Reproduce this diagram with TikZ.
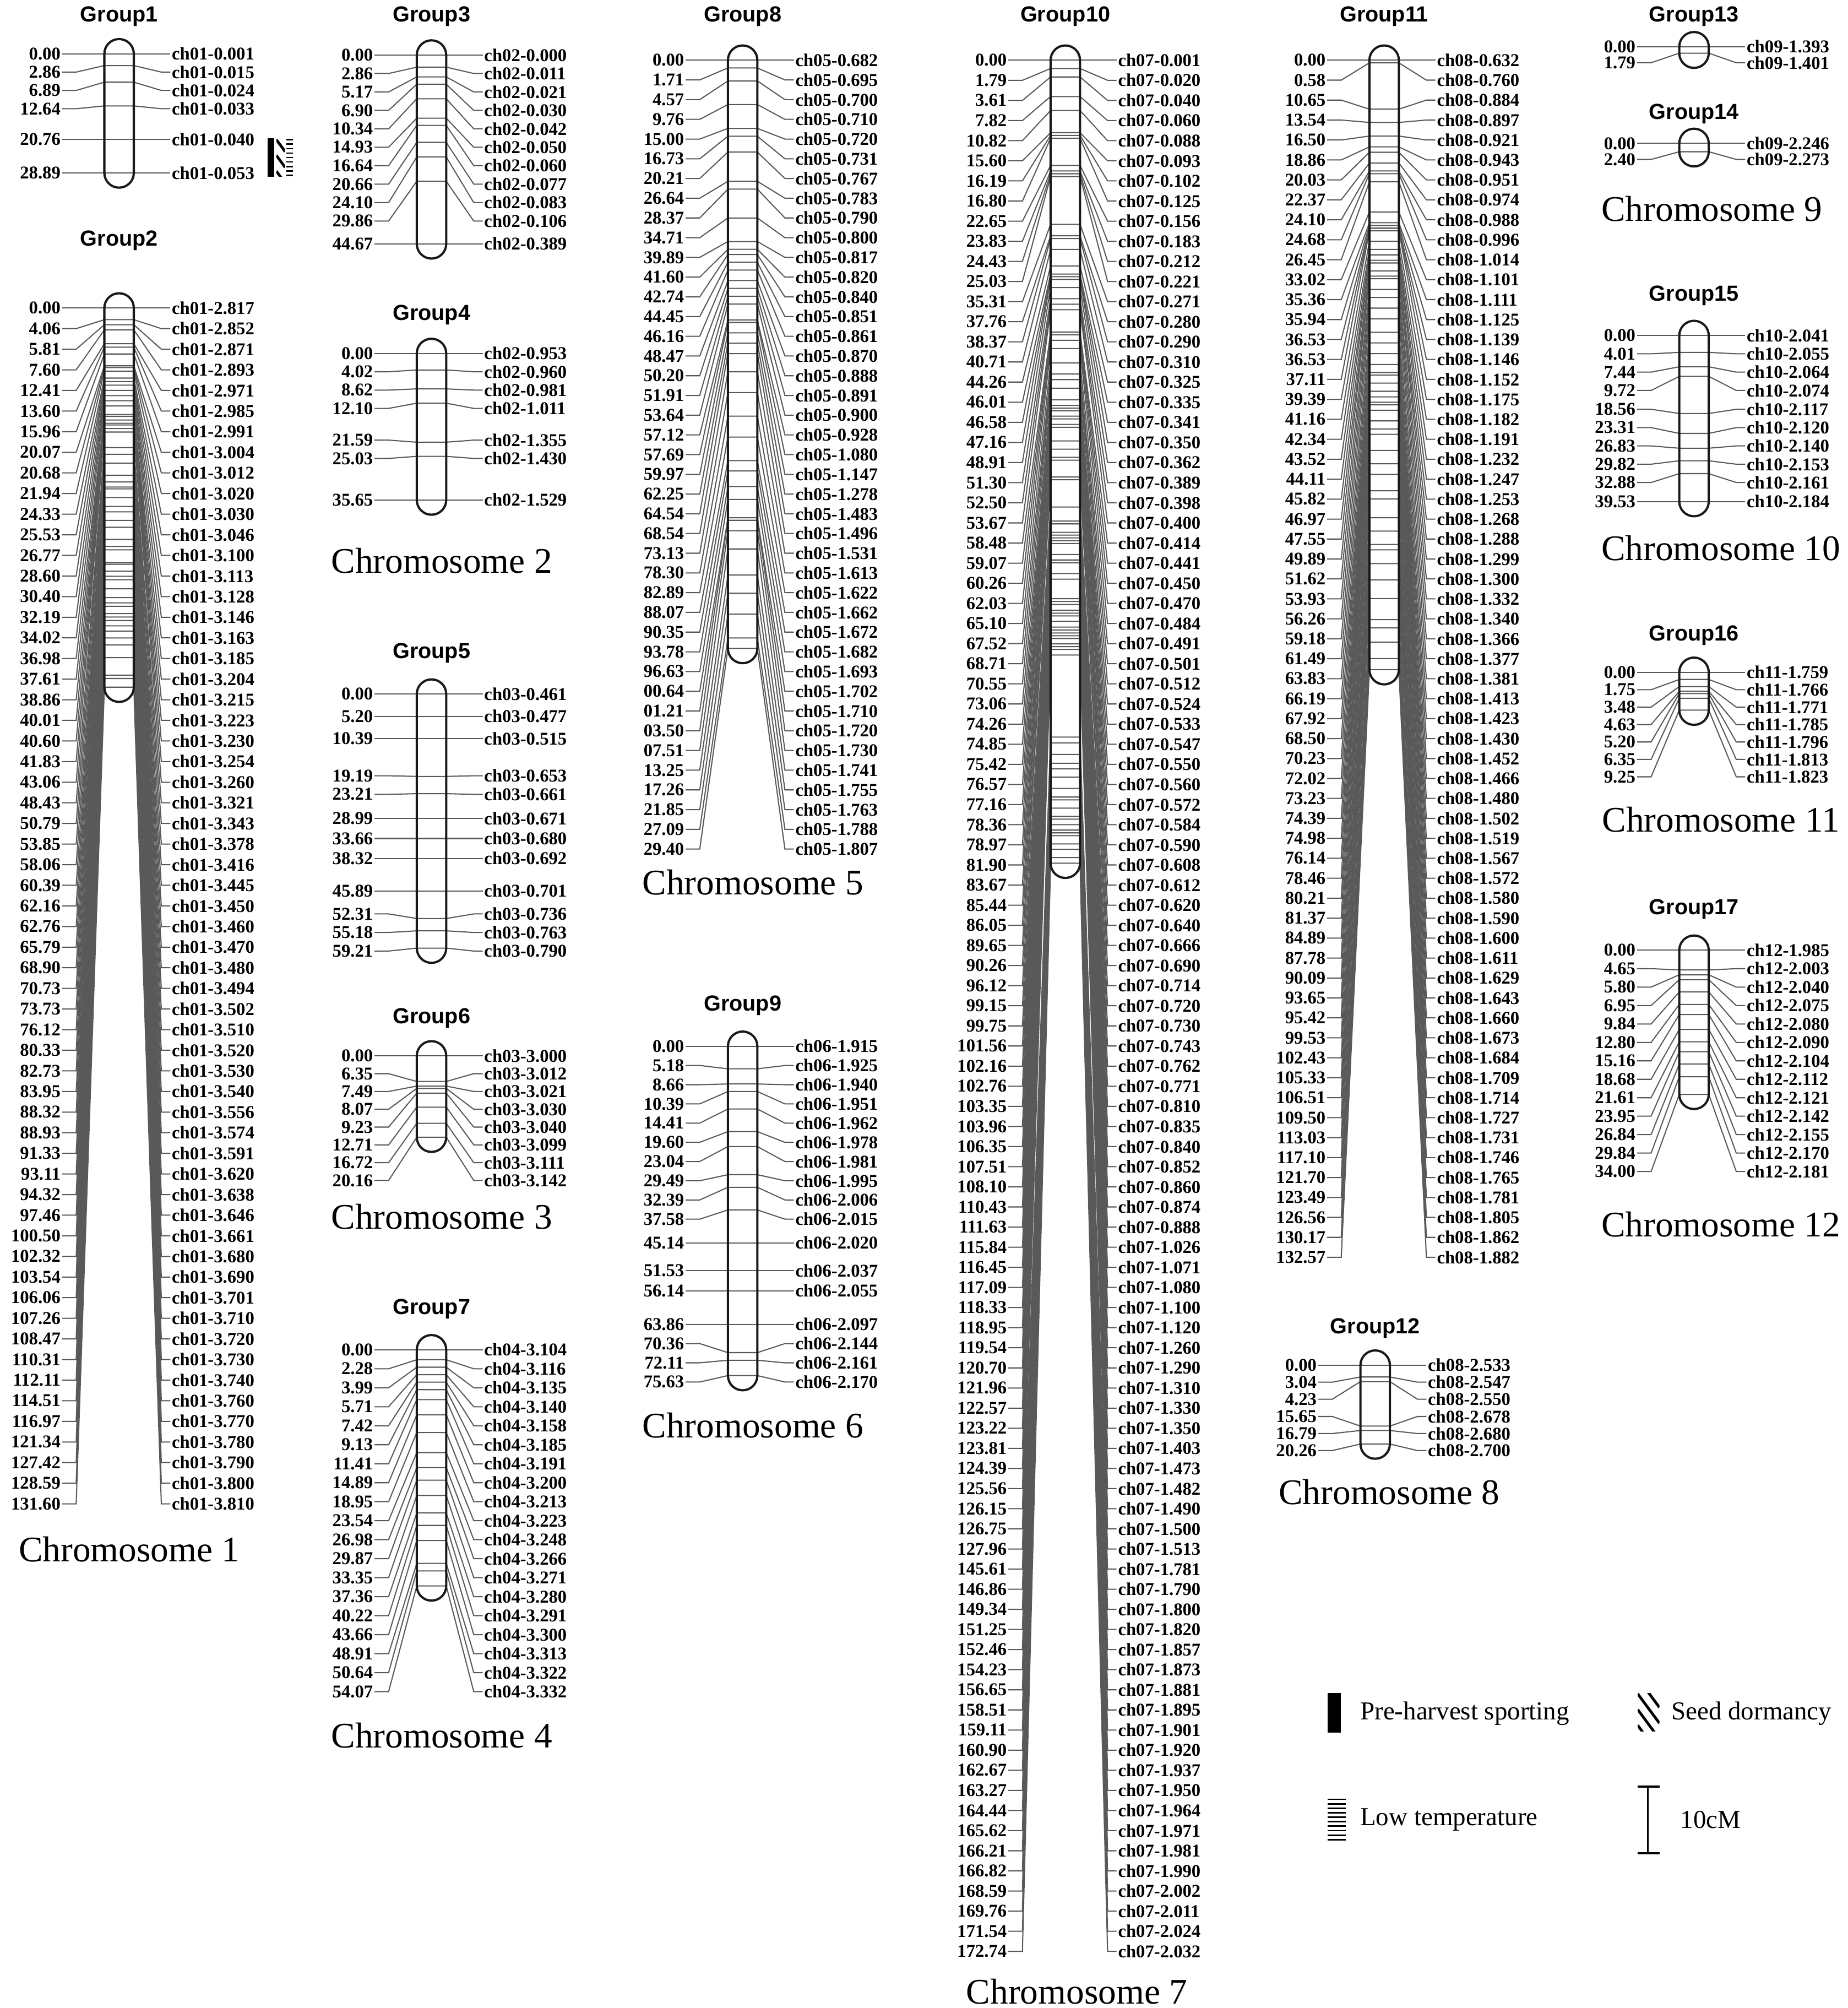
\documentclass[tikz,border=0pt]{standalone}
\usepackage{fontspec}
\setmainfont{Liberation Serif}
\newfontfamily\grpfont{Liberation Sans}
\usetikzlibrary{positioning}

\tikzset{
  conn/.style={draw=black!65, line width=0.5pt},
  chrbar/.style={draw=black!90, line width=1pt, rounded corners=0.23cm},
  cmlab/.style={font=\bfseries\fontsize{8}{8}\selectfont, inner sep=0.5pt, anchor=east},
  mklab/.style={font=\bfseries\fontsize{8}{8}\selectfont, inner sep=0.5pt, anchor=west},
  grptitle/.style={font=\grpfont\bfseries\fontsize{9.7}{10}\selectfont},
  chrname/.style={font=\fontsize{16}{18}\selectfont},
  legtext/.style={font=\fontsize{11.5}{13}\selectfont, inner sep=0pt},
}

\newcount\gnc
\newif\ifgmerge

% does the last label cluster run into the one before it?
\newcommand{\gmergetest}{%
  \gmergefalse
  \ifnum\gnc>1
    \pgfmathtruncatemacro\gpv{\the\gnc-1}%
    \pgfmathsetmacro\gov{\csname cp\gpv\endcsname+\csname cn\gpv\endcsname*\ggap-\csname cp\the\gnc\endcsname}%
    \ifdim\gov pt>0.01pt \gmergetrue\fi
  \fi}

\newcommand{\gmerge}{%
  \pgfmathtruncatemacro\gpv{\the\gnc-1}%
  \edef\gna{\csname cn\gpv\endcsname}\edef\gnb{\csname cn\the\gnc\endcsname}%
  \pgfmathtruncatemacro\gcnt{\gna+\gnb}%
  \pgfmathsetmacro\gmean{\csname cm\gpv\endcsname+(\csname cm\the\gnc\endcsname-\csname cm\gpv\endcsname)*\gnb/\gcnt}%
  \pgfmathsetmacro\gtmp{\gmean-(\gcnt-1)/2*\ggap}%
  \ifnum\gpv=1 \pgfmathsetmacro\gtmp{max(\gtmp,\csname gt1\endcsname)}\fi
  \expandafter\xdef\csname cn\gpv\endcsname{\gcnt}%
  \expandafter\xdef\csname cm\gpv\endcsname{\gmean}%
  \expandafter\xdef\csname cp\gpv\endcsname{\gtmp}%
  \global\advance\gnc by -1 }

% [first entry printed without its hundreds]{id}{centre x}{y of 0 cM}{px per cM}{label gap}{cM/marker list}
\newcommand{\linkgroup}[7][1000]{%
  \def\gcx{#3}\def\gyo{#4}\def\gsc{#5}\def\ggap{#6}%
  \foreach \cmv/\mkn [count=\i] in {#7}{%
    \ifnum\i<#1\relax \pgfmathsetmacro\gtmp{\gyo+\gsc*\cmv}%
    \else \pgfmathsetmacro\gtmp{\gyo+\gsc*1\cmv}\fi
    \expandafter\xdef\csname gt\i\endcsname{\gtmp}%
    \expandafter\xdef\csname gl\i\endcsname{\cmv}%
    \expandafter\xdef\csname gm\i\endcsname{\mkn}%
    \xdef\gn{\i}}%
  \global\gnc=0
  \foreach \i in {1,...,\gn}{%
    \global\advance\gnc by 1
    \expandafter\xdef\csname cn\the\gnc\endcsname{1}%
    \expandafter\xdef\csname cst\the\gnc\endcsname{\i}%
    \expandafter\xdef\csname cm\the\gnc\endcsname{\csname gt\i\endcsname}%
    \expandafter\xdef\csname cp\the\gnc\endcsname{\csname gt\i\endcsname}%
    \gmergetest
    \loop\ifgmerge \gmerge\gmergetest\repeat}%
  \xdef\gncl{\the\gnc}%
  \foreach \gkk in {1,...,\gncl}{%
    \pgfmathtruncatemacro\glast{\csname cn\gkk\endcsname-1}%
    \foreach \gjj in {0,...,\glast}{%
      \pgfmathtruncatemacro\gidx{\csname cst\gkk\endcsname+\gjj}%
      \pgfmathsetmacro\gtmp{\csname cp\gkk\endcsname+\gjj*\ggap}%
      \expandafter\xdef\csname gy\gidx\endcsname{\gtmp}}}%
  \foreach \i in {1,...,\gn}{%
    \edef\gyy{\csname gy\i\endcsname}\edef\gtt{\csname gt\i\endcsname}%
    \node[cmlab] (#2l\i) at (\gcx-44.5,\gyy) {\csname gl\i\endcsname};
    \node[mklab] (#2r\i) at (\gcx+40,\gyy) {\csname gm\i\endcsname};
    \draw[conn] (#2l\i.east) -- ++(11,0) -- (\gcx-11.5,\gtt) -- (\gcx+11.5,\gtt)
      -- (\gcx+33,\gyy) -- (#2r\i.west);}%
  \draw[chrbar] (\gcx-11.5,\gyo-11.5) rectangle (\gcx+11.5,\csname gt\gn\endcsname+11.5);}

\begin{document}
\begin{tikzpicture}[x=0.02cm, y=-0.02cm]
\useasboundingbox (0,0) rectangle (1443,1568);

\node[grptitle] (tg1) at (93,13) {Group1};
\node[grptitle] (tg2) at (93,188) {Group2};
\node[grptitle] (tg3) at (337,13) {Group3};
\node[grptitle] (tg4) at (337,246) {Group4};
\node[grptitle] (tg5) at (337,510) {Group5};
\node[grptitle] (tg6) at (337,795) {Group6};
\node[grptitle] (tg7) at (337,1022) {Group7};
\node[grptitle] (tg8) at (580,13) {Group8};
\node[grptitle] (tg9) at (580,785) {Group9};
\node[grptitle] (tg10) at (832,13) {Group10};
\node[grptitle] (tg11) at (1081,13) {Group11};
\node[grptitle] (tg12) at (1074,1037) {Group12};
\node[grptitle] (tg13) at (1323,13) {Group13};
\node[grptitle] (tg14) at (1323,89) {Group14};
\node[grptitle] (tg15) at (1323,231) {Group15};
\node[grptitle] (tg16) at (1323,496) {Group16};
\node[grptitle] (tg17) at (1323,710) {Group17};

\linkgroup{g1}{93}{42}{3.22}{14.3}{0.00/ch01-0.001, 2.86/ch01-0.015, 6.89/ch01-0.024,
  12.64/ch01-0.033, 20.76/ch01-0.040, 28.89/ch01-0.053}

\linkgroup{g2}{93}{240.5}{2.25}{16.1}{0.00/ch01-2.817, 4.06/ch01-2.852, 5.81/ch01-2.871,
  7.60/ch01-2.893, 12.41/ch01-2.971, 13.60/ch01-2.985, 15.96/ch01-2.991, 20.07/ch01-3.004,
  20.68/ch01-3.012, 21.94/ch01-3.020, 24.33/ch01-3.030, 25.53/ch01-3.046, 26.77/ch01-3.100,
  28.60/ch01-3.113, 30.40/ch01-3.128, 32.19/ch01-3.146, 34.02/ch01-3.163, 36.98/ch01-3.185,
  37.61/ch01-3.204, 38.86/ch01-3.215, 40.01/ch01-3.223, 40.60/ch01-3.230, 41.83/ch01-3.254,
  43.06/ch01-3.260, 48.43/ch01-3.321, 50.79/ch01-3.343, 53.85/ch01-3.378, 58.06/ch01-3.416,
  60.39/ch01-3.445, 62.16/ch01-3.450, 62.76/ch01-3.460, 65.79/ch01-3.470, 68.90/ch01-3.480,
  70.73/ch01-3.494, 73.73/ch01-3.502, 76.12/ch01-3.510, 80.33/ch01-3.520, 82.73/ch01-3.530,
  83.95/ch01-3.540, 88.32/ch01-3.556, 88.93/ch01-3.574, 91.33/ch01-3.591, 93.11/ch01-3.620,
  94.32/ch01-3.638, 97.46/ch01-3.646, 100.50/ch01-3.661, 102.32/ch01-3.680, 103.54/ch01-3.690,
  106.06/ch01-3.701, 107.26/ch01-3.710, 108.47/ch01-3.720, 110.31/ch01-3.730, 112.11/ch01-3.740,
  114.51/ch01-3.760, 116.97/ch01-3.770, 121.34/ch01-3.780, 127.42/ch01-3.790, 128.59/ch01-3.800,
  131.60/ch01-3.810}

\linkgroup{g3}{337}{43}{3.30}{14.4}{0.00/ch02-0.000, 2.86/ch02-0.011, 5.17/ch02-0.021,
  6.90/ch02-0.030, 10.34/ch02-0.042, 14.93/ch02-0.050, 16.64/ch02-0.060, 20.66/ch02-0.077,
  24.10/ch02-0.083, 29.86/ch02-0.106, 44.67/ch02-0.389}

\linkgroup{g4}{337}{276}{3.21}{14.3}{0.00/ch02-0.953, 4.02/ch02-0.960, 8.62/ch02-0.981,
  12.10/ch02-1.011, 21.59/ch02-1.355, 25.03/ch02-1.430, 35.65/ch02-1.529}

\linkgroup{g5}{337}{542}{3.35}{14.5}{0.00/ch03-0.461, 5.20/ch03-0.477, 10.39/ch03-0.515,
  19.19/ch03-0.653, 23.21/ch03-0.661, 28.99/ch03-0.671, 33.66/ch03-0.680, 38.32/ch03-0.692,
  45.89/ch03-0.701, 52.31/ch03-0.736, 55.18/ch03-0.763, 59.21/ch03-0.790}

\linkgroup{g6}{337}{824.5}{3.15}{13.9}{0.00/ch03-3.000, 6.35/ch03-3.012, 7.49/ch03-3.021,
  8.07/ch03-3.030, 9.23/ch03-3.040, 12.71/ch03-3.099, 16.72/ch03-3.111, 20.16/ch03-3.142}

\linkgroup{g7}{337}{1054}{3.41}{14.83}{0.00/ch04-3.104, 2.28/ch04-3.116, 3.99/ch04-3.135,
  5.71/ch04-3.140, 7.42/ch04-3.158, 9.13/ch04-3.185, 11.41/ch04-3.191, 14.89/ch04-3.200,
  18.95/ch04-3.213, 23.54/ch04-3.223, 26.98/ch04-3.248, 29.87/ch04-3.266, 33.35/ch04-3.271,
  37.36/ch04-3.280, 40.22/ch04-3.291, 43.66/ch04-3.300, 48.91/ch04-3.313, 50.64/ch04-3.322,
  54.07/ch04-3.332}

\linkgroup[33]{g8}{580}{47}{3.55}{15.4}{0.00/ch05-0.682, 1.71/ch05-0.695, 4.57/ch05-0.700,
  9.76/ch05-0.710, 15.00/ch05-0.720, 16.73/ch05-0.731, 20.21/ch05-0.767, 26.64/ch05-0.783,
  28.37/ch05-0.790, 34.71/ch05-0.800, 39.89/ch05-0.817, 41.60/ch05-0.820, 42.74/ch05-0.840,
  44.45/ch05-0.851, 46.16/ch05-0.861, 48.47/ch05-0.870, 50.20/ch05-0.888, 51.91/ch05-0.891,
  53.64/ch05-0.900, 57.12/ch05-0.928, 57.69/ch05-1.080, 59.97/ch05-1.147, 62.25/ch05-1.278,
  64.54/ch05-1.483, 68.54/ch05-1.496, 73.13/ch05-1.531, 78.30/ch05-1.613, 82.89/ch05-1.622,
  88.07/ch05-1.662, 90.35/ch05-1.672, 93.78/ch05-1.682, 96.63/ch05-1.693, 00.64/ch05-1.702,
  01.21/ch05-1.710, 03.50/ch05-1.720, 07.51/ch05-1.730, 13.25/ch05-1.741, 17.26/ch05-1.755,
  21.85/ch05-1.763, 27.09/ch05-1.788, 29.40/ch05-1.807}

\linkgroup{g9}{580}{817}{3.40}{15}{0.00/ch06-1.915, 5.18/ch06-1.925, 8.66/ch06-1.940,
  10.39/ch06-1.951, 14.41/ch06-1.962, 19.60/ch06-1.978, 23.04/ch06-1.981, 29.49/ch06-1.995,
  32.39/ch06-2.006, 37.58/ch06-2.015, 45.14/ch06-2.020, 51.53/ch06-2.037, 56.14/ch06-2.055,
  63.86/ch06-2.097, 70.36/ch06-2.144, 72.11/ch06-2.161, 75.63/ch06-2.170}

\linkgroup{g10}{832}{47}{3.63}{15.71}{0.00/ch07-0.001, 1.79/ch07-0.020, 3.61/ch07-0.040,
  7.82/ch07-0.060, 10.82/ch07-0.088, 15.60/ch07-0.093, 16.19/ch07-0.102, 16.80/ch07-0.125,
  22.65/ch07-0.156, 23.83/ch07-0.183, 24.43/ch07-0.212, 25.03/ch07-0.221, 35.31/ch07-0.271,
  37.76/ch07-0.280, 38.37/ch07-0.290, 40.71/ch07-0.310, 44.26/ch07-0.325, 46.01/ch07-0.335,
  46.58/ch07-0.341, 47.16/ch07-0.350, 48.91/ch07-0.362, 51.30/ch07-0.389, 52.50/ch07-0.398,
  53.67/ch07-0.400, 58.48/ch07-0.414, 59.07/ch07-0.441, 60.26/ch07-0.450, 62.03/ch07-0.470,
  65.10/ch07-0.484, 67.52/ch07-0.491, 68.71/ch07-0.501, 70.55/ch07-0.512, 73.06/ch07-0.524,
  74.26/ch07-0.533, 74.85/ch07-0.547, 75.42/ch07-0.550, 76.57/ch07-0.560, 77.16/ch07-0.572,
  78.36/ch07-0.584, 78.97/ch07-0.590, 81.90/ch07-0.608, 83.67/ch07-0.612, 85.44/ch07-0.620,
  86.05/ch07-0.640, 89.65/ch07-0.666, 90.26/ch07-0.690, 96.12/ch07-0.714, 99.15/ch07-0.720,
  99.75/ch07-0.730, 101.56/ch07-0.743, 102.16/ch07-0.762, 102.76/ch07-0.771, 103.35/ch07-0.810,
  103.96/ch07-0.835, 106.35/ch07-0.840, 107.51/ch07-0.852, 108.10/ch07-0.860, 110.43/ch07-0.874,
  111.63/ch07-0.888, 115.84/ch07-1.026, 116.45/ch07-1.071, 117.09/ch07-1.080, 118.33/ch07-1.100,
  118.95/ch07-1.120, 119.54/ch07-1.260, 120.70/ch07-1.290, 121.96/ch07-1.310, 122.57/ch07-1.330,
  123.22/ch07-1.350, 123.81/ch07-1.403, 124.39/ch07-1.473, 125.56/ch07-1.482, 126.15/ch07-1.490,
  126.75/ch07-1.500, 127.96/ch07-1.513, 145.61/ch07-1.781, 146.86/ch07-1.790, 149.34/ch07-1.800,
  151.25/ch07-1.820, 152.46/ch07-1.857, 154.23/ch07-1.873, 156.65/ch07-1.881, 158.51/ch07-1.895,
  159.11/ch07-1.901, 160.90/ch07-1.920, 162.67/ch07-1.937, 163.27/ch07-1.950, 164.44/ch07-1.964,
  165.62/ch07-1.971, 166.21/ch07-1.981, 166.82/ch07-1.990, 168.59/ch07-2.002, 169.76/ch07-2.011,
  171.54/ch07-2.024, 172.74/ch07-2.032}

\linkgroup{g11}{1081}{47}{3.59}{15.58}{0.00/ch08-0.632, 0.58/ch08-0.760, 10.65/ch08-0.884,
  13.54/ch08-0.897, 16.50/ch08-0.921, 18.86/ch08-0.943, 20.03/ch08-0.951, 22.37/ch08-0.974,
  24.10/ch08-0.988, 24.68/ch08-0.996, 26.45/ch08-1.014, 33.02/ch08-1.101, 35.36/ch08-1.111,
  35.94/ch08-1.125, 36.53/ch08-1.139, 36.53/ch08-1.146, 37.11/ch08-1.152, 39.39/ch08-1.175,
  41.16/ch08-1.182, 42.34/ch08-1.191, 43.52/ch08-1.232, 44.11/ch08-1.247, 45.82/ch08-1.253,
  46.97/ch08-1.268, 47.55/ch08-1.288, 49.89/ch08-1.299, 51.62/ch08-1.300, 53.93/ch08-1.332,
  56.26/ch08-1.340, 59.18/ch08-1.366, 61.49/ch08-1.377, 63.83/ch08-1.381, 66.19/ch08-1.413,
  67.92/ch08-1.423, 68.50/ch08-1.430, 70.23/ch08-1.452, 72.02/ch08-1.466, 73.23/ch08-1.480,
  74.39/ch08-1.502, 74.98/ch08-1.519, 76.14/ch08-1.567, 78.46/ch08-1.572, 80.21/ch08-1.580,
  81.37/ch08-1.590, 84.89/ch08-1.600, 87.78/ch08-1.611, 90.09/ch08-1.629, 93.65/ch08-1.643,
  95.42/ch08-1.660, 99.53/ch08-1.673, 102.43/ch08-1.684, 105.33/ch08-1.709, 106.51/ch08-1.714,
  109.50/ch08-1.727, 113.03/ch08-1.731, 117.10/ch08-1.746, 121.70/ch08-1.765, 123.49/ch08-1.781,
  126.56/ch08-1.805, 130.17/ch08-1.862, 132.57/ch08-1.882}

\linkgroup{g12}{1074}{1066}{3.04}{13.3}{0.00/ch08-2.533, 3.04/ch08-2.547, 4.23/ch08-2.550,
  15.65/ch08-2.678, 16.79/ch08-2.680, 20.26/ch08-2.700}

\linkgroup{g13}{1323}{36.5}{2.8}{12.5}{0.00/ch09-1.393, 1.79/ch09-1.401}

\linkgroup{g14}{1323}{112}{2.7}{12.5}{0.00/ch09-2.246, 2.40/ch09-2.273}

\linkgroup{g15}{1323}{262}{3.28}{14.3}{0.00/ch10-2.041, 4.01/ch10-2.055, 7.44/ch10-2.064,
  9.72/ch10-2.074, 18.56/ch10-2.117, 23.31/ch10-2.120, 26.83/ch10-2.140, 29.82/ch10-2.153,
  32.88/ch10-2.161, 39.53/ch10-2.184}

\linkgroup{g16}{1323}{525}{3.19}{13.6}{0.00/ch11-1.759, 1.75/ch11-1.766, 3.48/ch11-1.771,
  4.63/ch11-1.785, 5.20/ch11-1.796, 6.35/ch11-1.813, 9.25/ch11-1.823}

\linkgroup{g17}{1323}{742}{3.31}{14.4}{0.00/ch12-1.985, 4.65/ch12-2.003, 5.80/ch12-2.040,
  6.95/ch12-2.075, 9.84/ch12-2.080, 12.80/ch12-2.090, 15.16/ch12-2.104, 18.68/ch12-2.112,
  21.61/ch12-2.121, 23.95/ch12-2.142, 26.84/ch12-2.155, 29.84/ch12-2.170, 34.00/ch12-2.181}

\node[chrname] (chr1) at (101,1210) {Chromosome 1};
\node[chrname] (chr2) at (345,438) {Chromosome 2};
\node[chrname] (chr3) at (345,950) {Chromosome 3};
\node[chrname] (chr4) at (345,1355) {Chromosome 4};
\node[chrname] (chr5) at (588,689) {Chromosome 5};
\node[chrname] (chr6) at (588,1113) {Chromosome 6};
\node[chrname] (chr7) at (841,1555) {Chromosome 7};
\node[chrname] (chr8) at (1085,1165) {Chromosome 8};
\node[chrname] (chr9) at (1337,163) {Chromosome 9};
\node[chrname] (chr10) at (1344,428) {Chromosome 10};
\node[chrname] (chr11) at (1344,640) {Chromosome 11};
\node[chrname] (chr12) at (1344,956) {Chromosome 12};

% QTL beside Group1
\fill (209,108) rectangle (214,138);
\begin{scope}
  \clip (215.8,108) rectangle (222.7,138);
  \foreach \h in {109,121.3,133.6} \draw[line width=1.2pt] (215.8,\h) -- (222.7,\h+9.4);
\end{scope}
\foreach \h in {0,...,8} \draw[line width=0.6pt] (223.5,109+3.5*\h) -- (229,109+3.5*\h);

% legend
\fill (1037,1322) rectangle (1047,1353);
\coordinate (psk) at (1047,1338);
\node[legtext, right=0.3cm of psk] (pstext) {Pre-harvest sporting};

\begin{scope}
  \clip (1279,1322) rectangle (1296,1352);
  \foreach \h in {1298,1310.3,1322.6,1334.9,1347.2} \draw[line width=1.2pt] (1279,\h) -- (1296,\h+23);
\end{scope}
\coordinate (sdk) at (1296,1338);
\node[legtext, right=0.18cm of sdk] (sdtext) {Seed dormancy};

\foreach \h in {0,...,9} \draw[line width=0.7pt] (1037,1405+3.5*\h) -- (1051,1405+3.5*\h);
\coordinate (ltk) at (1051,1421);
\node[legtext, right=0.22cm of ltk] (lttext) {Low temperature};

\coordinate (sbt) at (1287,1395);
\coordinate (sbb) at (1287,1447);
\draw[line width=0.9pt] (sbt) -- (sbb);
\draw[line width=0.9pt] ([xshift=-0.16cm]sbt) -- ([xshift=0.18cm]sbt);
\draw[line width=0.9pt] ([xshift=-0.16cm]sbb) -- ([xshift=0.18cm]sbb);
\coordinate (sbk) at (1296,1421);
\node[legtext, right=0.32cm of sbk] (sbtext) {10cM};

\end{tikzpicture}
\end{document}
